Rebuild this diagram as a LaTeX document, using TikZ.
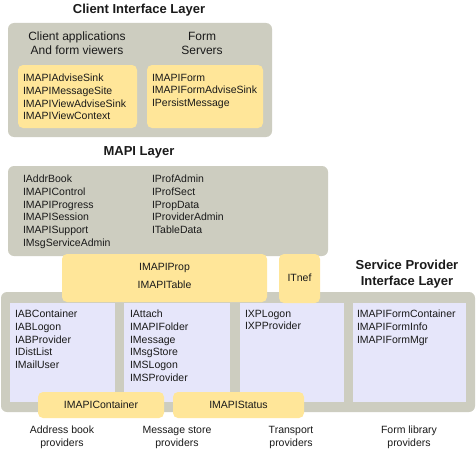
\documentclass[tikz,border=0pt]{standalone}
\usepackage{fontspec}
\setmainfont{Liberation Sans}
\definecolor{grayL}{HTML}{CDCDC0}
\definecolor{yel}{HTML}{FFE699}
\definecolor{lav}{HTML}{E6E6FA}
\definecolor{ink}{HTML}{1A1A1A}
\tikzset{
  box/.style={anchor=north west, inner sep=0pt, outer sep=0pt},
  graybox/.style={box, fill=grayL, rounded corners=6pt},
  yelbox/.style={box, fill=yel, rounded corners=5pt},
  lavbox/.style={box, fill=lav},
  lbl/.style={inner sep=0pt, outer sep=0pt, text=ink, align=left, anchor=north west, font=\fontsize{10.5}{12.75}\selectfont},
  clbl/.style={inner sep=0pt, outer sep=0pt, text=ink, align=center, anchor=center, font=\fontsize{10.5}{13.5}\selectfont},
  hlbl/.style={clbl, font=\fontsize{12}{14}\selectfont},
  ttl/.style={inner sep=0pt, outer sep=0pt, text=ink, align=center, anchor=center, font=\fontsize{13}{16}\selectfont\bfseries}
}
\begin{document}
\begin{tikzpicture}[x=1pt,y=-1pt]
\useasboundingbox[fill=white] (0,0) rectangle (476,452);
% Client interface layer
\node[ttl] (tclient) at (139,10) {Client Interface Layer};
\node[graybox, minimum width=264pt, minimum height=114pt] (client) at (8,23) {};
\node[hlbl] (hclient) at (77,43) {Client applications\\And form viewers};
\node[hlbl] (hform) at (202,43) {Form\\Servers};
\node[yelbox, minimum width=119pt, minimum height=63pt] (y1) at (18,65) {};
\node[yelbox, minimum width=116pt, minimum height=63pt] (y2) at (147,65) {};
\node[lbl] (ty1) at (23,74) {IMAPIAdviseSink\\IMAPIMessageSite\\IMAPIViewAdviseSink\\IMAPIViewContext};
\node[lbl] (ty2) at (152,74) {IMAPIForm\\IMAPIFormAdviseSink\\IPersistMessage};
% MAPI layer
\node[ttl] (tmapi) at (139,152) {MAPI Layer};
\node[graybox, minimum width=320pt, minimum height=90pt] (mapi) at (8,166) {};
\node[lbl] (tm1) at (23,175) {IAddrBook\\IMAPIControl\\IMAPIProgress\\IMAPISession\\IMAPISupport\\IMsgServiceAdmin};
\node[lbl] (tm2) at (152,175) {IProfAdmin\\IProfSect\\IPropData\\IProviderAdmin\\ITableData};
% Service provider interface layer
\node[ttl] (tspi) at (407,274) {Service Provider\\Interface Layer};
\node[graybox, minimum width=474pt, minimum height=120pt] (spi) at (1,292) {};
\node[lavbox, minimum width=105pt, minimum height=99pt] (l1) at (10,303) {};
\node[lavbox, minimum width=106pt, minimum height=99pt] (l2) at (124,303) {};
\node[lavbox, minimum width=104pt, minimum height=99pt] (l3) at (240,303) {};
\node[lavbox, minimum width=113pt, minimum height=99pt] (l4) at (353,303) {};
\node[lbl] (tl1) at (15,310) {IABContainer\\IABLogon\\IABProvider\\IDistList\\IMailUser};
\node[lbl] (tl2) at (130,310) {IAttach\\IMAPIFolder\\IMessage\\IMsgStore\\IMSLogon\\IMSProvider};
\node[lbl] (tl3) at (245,310) {IXPLogon\\IXPProvider};
\node[lbl] (tl4) at (357,310) {IMAPIFormContainer\\IMAPIFormInfo\\IMAPIFormMgr};
% shared yellow boxes
\node[yelbox, minimum width=205pt, minimum height=48pt] (prop) at (62,254) {};
\node[clbl, font=\fontsize{10.5}{18}\selectfont] (tprop) at (164.5,276) {IMAPIProp\\IMAPITable};
\node[yelbox, minimum width=41pt, minimum height=49pt] (tnef) at (279,254) {};
\node[clbl] (ttnef) at (299.5,278) {ITnef};
\node[yelbox, minimum width=126pt, minimum height=26pt] (cont) at (38,392) {};
\node[clbl] (tcont) at (101,405) {IMAPIContainer};
\node[yelbox, minimum width=131pt, minimum height=26pt] (stat) at (173,392) {};
\node[clbl] (tstat) at (238.5,405) {IMAPIStatus};
% bottom captions
\node[clbl] (c1) at (62,437.5) {Address book\\providers};
\node[clbl] (c2) at (177,437.5) {Message store\\providers};
\node[clbl] (c3) at (291,437.5) {Transport\\providers};
\node[clbl] (c4) at (409,437.5) {Form library\\providers};
\end{tikzpicture}
\end{document}
